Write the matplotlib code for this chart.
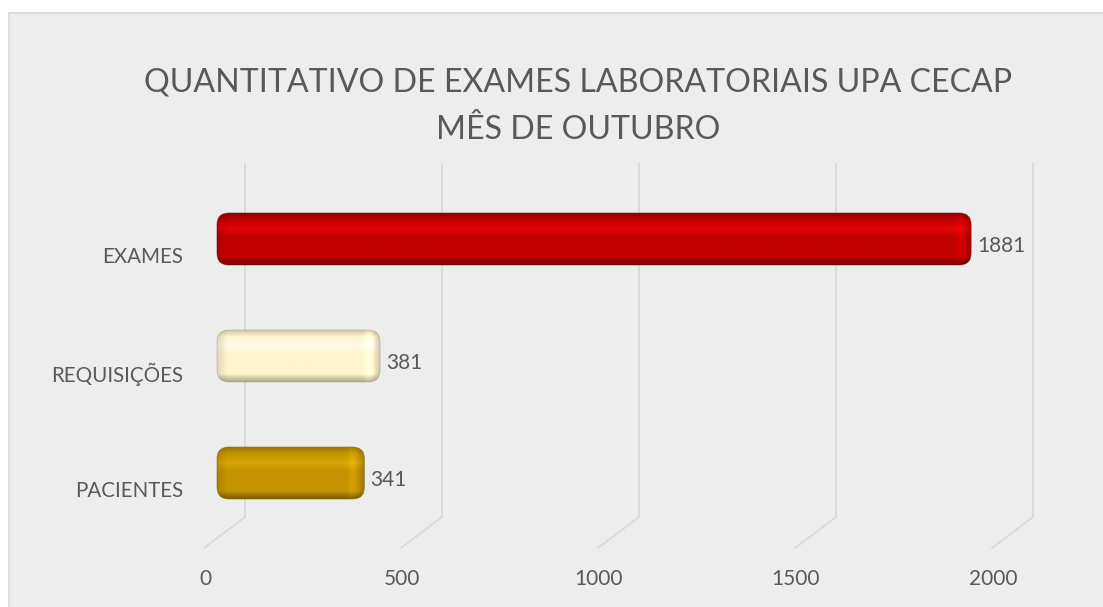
import numpy as np
import matplotlib
matplotlib.use('Agg')
import matplotlib.pyplot as plt
from matplotlib.patches import FancyBboxPatch, Rectangle
from matplotlib.colors import to_rgb
from matplotlib.transforms import ScaledTranslation

title = 'QUANTITATIVO DE EXAMES LABORATORIAIS UPA CECAP\nMÊS DE OUTUBRO'
categories = ['PACIENTES', 'REQUISIÇÕES', 'EXAMES']
values = [341, 381, 1881]
ticks = [0, 500, 1000, 1500, 2000]
# top edge, face, highlight, bottom edge
bar_colors = [
  ('#A07800', '#C49400', '#D9A600', '#7A5C00'),
  ('#CFC7A6', '#FFF4CC', '#FFFBE8', '#ADA689'),
  ('#8E0000', '#C20000', '#DE0606', '#6E0000'),
]

W, H, DPI = 1103, 607, 100
text_gray = '#595959'
grid_gray = '#D9D9D9'
plt.rcParams['font.family'] = ['Lato', 'DejaVu Sans']

fig = plt.figure(figsize=(W / DPI, H / DPI), dpi=DPI)
fig.patch.set_facecolor('white')
fig.patches.append(Rectangle((9 / W, -0.01), 1.02, 1 - 13 / H + 0.01, transform=fig.transFigure,
                             facecolor='#EDEDED', edgecolor=grid_gray, lw=1.2, zorder=-5))

# axes box starts left of the back wall so the front of the bars is not clipped
px_x = (1033 - 245) / 2000.0
xmin = -(245 - 205) / px_x
ax = fig.add_axes([205 / W, 1 - 517 / H, (1033 - 205) / W, (517 - 164) / H])
ax.set_zorder(2)
ax.axis('off')

def px(dx, dy=0):
  return ScaledTranslation(dx / DPI, dy / DPI, fig.dpi_scale_trans)

# back wall gridlines with the floor edge
for t in ticks:
  ax.plot([t, t], [0, 1], transform=ax.get_xaxis_transform(), color=grid_gray, lw=1.3, zorder=1,
          clip_on=False)
  ax.annotate('', xy=(t, 0), xycoords=ax.get_xaxis_transform(), xytext=(-41, -31),
              textcoords='offset pixels',
              arrowprops=dict(arrowstyle='-', color=grid_gray, lw=1.3, shrinkA=0, shrinkB=0))
  ax.text(t, 0, str(t), transform=ax.get_xaxis_transform() + px(-40, -62), ha='center',
          va='center', fontsize=15, color=text_gray)

# bar geometry
bar_h = 0.444
px_y = (517 - 164) / (2.641 + 0.376)
cap = 13 / px_x
asp = px_x / px_y
bar_tr = ax.transData + px(-15)

def make_img(c, width_px, height_px):
  stops = [0, 0.12, 0.3, 0.46, 0.85, 1.0]
  cols = [c[0], c[1], c[2], c[1], c[1], c[3]]
  rgb = np.array([to_rgb(k) for k in cols])
  tt = np.linspace(0, 1, height_px)
  col = np.stack([np.interp(tt, stops, rgb[:, i]) for i in range(3)], axis=1)
  img = np.repeat(col[:, None, :], width_px, axis=1)
  # rounded right end: light band then darker rim
  xx = np.arange(width_px)
  d = width_px - 1 - xx
  f = np.ones(width_px)
  f = np.where(d < 20, 1 + 0.08 * np.exp(-((d - 12) / 4.0) ** 2), f)
  f = np.where(d < 8, f * (0.8 + 0.2 * d / 8.0), f)
  img = img * f[None, :, None]
  # left rounded end slightly darker
  g = np.where(xx < 10, 0.88 + 0.12 * xx / 10.0, 1.0)
  img = img * g[None, :, None]
  return np.clip(img, 0, 1)

for i, (cat, v) in enumerate(zip(categories, values)):
  c = bar_colors[i]
  x0, x1 = -cap, v
  y0 = i - bar_h / 2
  patch = FancyBboxPatch((x0, y0), x1 - x0, bar_h,
                         boxstyle='round,pad=0,rounding_size=%f' % (12 / px_x),
                         mutation_aspect=asp, transform=bar_tr,
                         facecolor='none', edgecolor=c[3], lw=0.6, alpha=0.6, zorder=4,
                         clip_on=False)
  ax.add_patch(patch)
  wpx = int(round((x1 - x0) * px_x))
  hpx = int(round(bar_h * px_y))
  im = ax.imshow(make_img(c, wpx, hpx), extent=(x0, x1, y0, y0 + bar_h), transform=bar_tr,
                 aspect='auto', interpolation='bilinear', zorder=3)
  im.set_clip_path(patch)

  ax.text(0, i, cat, transform=ax.transData + px(-62, -18), ha='right', va='center',
          fontsize=14.8, color=text_gray)
  ax.text(v, i, str(v), transform=ax.transData + px(-9, -7), ha='left', va='center',
          fontsize=15, color=text_gray)

ax.set_xlim(xmin, 2000)
ax.set_ylim(-0.376, 2.641)

fig.text(578 / W, 1 - 106 / H, title, ha='center', va='center', fontsize=23.1, color=text_gray,
         linespacing=1.72)

fig.savefig('out.png', dpi=DPI)
